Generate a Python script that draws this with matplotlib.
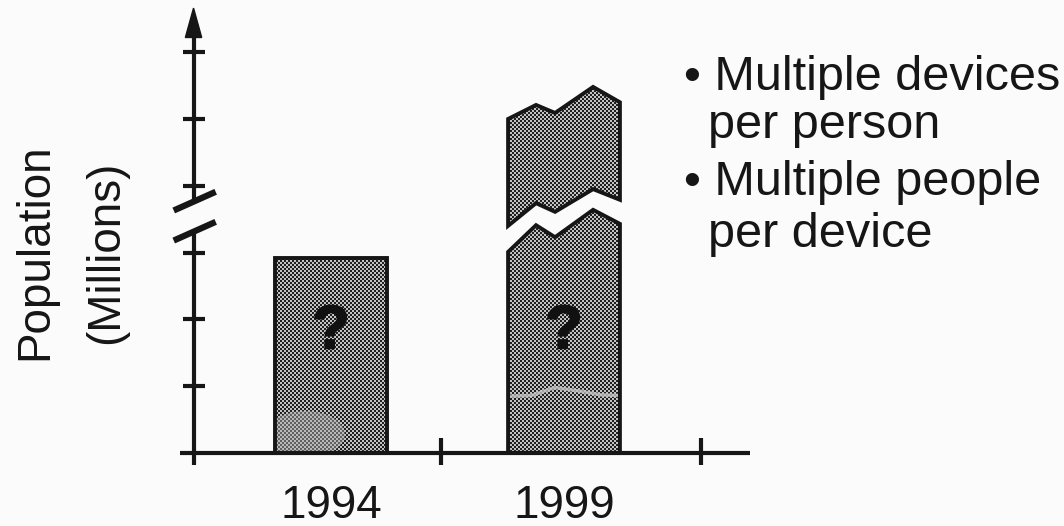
import numpy as np
import matplotlib.pyplot as plt
import matplotlib.patheffects as pe
from matplotlib.colors import ListedColormap
from matplotlib.patches import Polygon, Ellipse

plt.rcParams['font.family'] = ['Liberation Sans', 'DejaVu Sans']

# categories and bar heights (y in tick units)
years = ['1994', '1999']
bar_pos = [0.0, 1.0]
bar_width = 0.48
height_1994 = 2.92

# the 1999 bar is broken in two; jagged edges sampled across the bar width
edge_frac = [0.0, 0.25, 0.42, 0.76, 1.0]
lower_top = [3.01, 3.41, 3.23, 3.64, 3.43]
upper_bottom = [3.40, 3.74, 3.61, 3.95, 3.79]
upper_top = [5.00, 5.21, 5.09, 5.48, 5.25]

y_ticks = [1, 2, 3, 4, 5, 6]
x_ticks = [0.47, 1.59]
axis_x = -0.59
break_low, break_high = 3.32, 3.77

bullets = [('\u2022 Multiple devices', 'per person'),
           ('\u2022 Multiple people', 'per device')]

INK = '#161616'
BG = '#fbfbfb'

fig = plt.figure(figsize=(10.64, 5.26), dpi=100, facecolor=BG)
ax = fig.add_axes([0, 0, 1, 1])
ax.set_facecolor(BG)
x0, x1 = -1.4206, 3.1459
y0, y1 = -1.093, 6.781
ax.set_xlim(x0, x1)
ax.set_ylim(y0, y1)
ax.axis('off')

# halftone screen used as the bar fill (one cell = 2x2 output pixels)
h, w = 263, 532
yy, xx = np.mgrid[0:h, 0:w]
checker = ((yy + xx) % 2).astype(float)
screen = ListedColormap(['#1f1f1f', '#c2c2c2'])


def halftone_patch(verts):
    poly = Polygon(verts, closed=True, facecolor='none', edgecolor=INK,
                   lw=2.8, joinstyle='miter', zorder=4)
    ax.add_patch(poly)
    im = ax.imshow(checker, extent=(x0, x1, y0, y1), origin='lower',
                   cmap=screen, interpolation='nearest', aspect='auto', zorder=2)
    im.set_clip_path(poly)
    return poly


# 1994 bar
left = bar_pos[0] - bar_width / 2
bar94 = halftone_patch([(left, 0), (left, height_1994),
                        (left + bar_width, height_1994), (left + bar_width, 0)])
smudge = Ellipse((left + 0.13, 0.28), 0.34, 0.7, facecolor='#b0b0b0',
                 edgecolor='none', alpha=0.45, zorder=3)
ax.add_patch(smudge)
smudge.set_clip_path(bar94)

# 1999 bar, lower and upper pieces
left = bar_pos[1] - bar_width / 2
xs = [left + f * bar_width for f in edge_frac]
bar99 = halftone_patch([(left, 0)] + list(zip(xs, lower_top)) + [(xs[-1], 0)])
halftone_patch(list(zip(xs, upper_bottom)) + list(zip(xs[::-1], upper_top[::-1])))
streak, = ax.plot([left, left + 0.1, left + 0.2, left + 0.3, left + 0.4, bar_pos[1] + 0.24],
                  [0.85, 0.86, 0.98, 0.93, 0.87, 0.86], color='#c4c4c4', lw=2.5,
                  alpha=0.8, zorder=3)
streak.set_clip_path(bar99)

for p in bar_pos:
    ax.text(p, 1.80, '?', ha='center', va='center', fontsize=44,
            fontweight='bold', color='#111111', zorder=10,
            path_effects=[pe.withStroke(linewidth=1.5, foreground='#111111')])

# baseline with separator ticks
ax.plot([-0.65, 1.80], [0, 0], color=INK, lw=3, solid_capstyle='butt', zorder=6)
for t in x_ticks:
    ax.plot([t, t], [-0.18, 0.22], color=INK, lw=3, solid_capstyle='butt', zorder=6)

# broken vertical axis with arrow head
ax.plot([axis_x, axis_x], [-0.18, break_low], color=INK, lw=3,
        solid_capstyle='butt', zorder=6)
ax.plot([axis_x, axis_x], [break_high, 6.25], color=INK, lw=3,
        solid_capstyle='butt', zorder=6)
ax.add_patch(Polygon([(axis_x - 0.035, 6.22), (axis_x, 6.66), (axis_x + 0.035, 6.22)],
                     closed=True, color=INK, zorder=6))
for t in y_ticks:
    ax.plot([axis_x - 0.045, axis_x + 0.05], [t, t], color=INK, lw=3,
            solid_capstyle='butt', zorder=6)
for yb in (break_low, break_high):
    ax.plot([axis_x - 0.085, axis_x + 0.095], [yb - 0.14, yb + 0.14], color=INK,
            lw=4.5, solid_capstyle='butt', zorder=7)

# labels
for p, yr in zip(bar_pos, years):
    ax.text(p, -0.79, yr, ha='center', va='center', fontsize=33, color=INK)
ax.text(-1.27, 3.01, 'Population', rotation=90, ha='center', va='center',
        fontsize=33, color=INK)
ax.text(-0.966, 3.01, '(Millions)', rotation=90, ha='center', va='center',
        fontsize=33, color=INK)

line_y = [90, 138, 195, 247]
for i, (first, second) in enumerate(bullets):
    fig.text(684 / 1064, 1 - line_y[2 * i] / 526, first, ha='left', va='baseline',
             fontsize=35, color=INK)
    fig.text(708 / 1064, 1 - line_y[2 * i + 1] / 526, second, ha='left', va='baseline',
             fontsize=35, color=INK)

fig.savefig('out.png', dpi=100, facecolor=fig.get_facecolor())
